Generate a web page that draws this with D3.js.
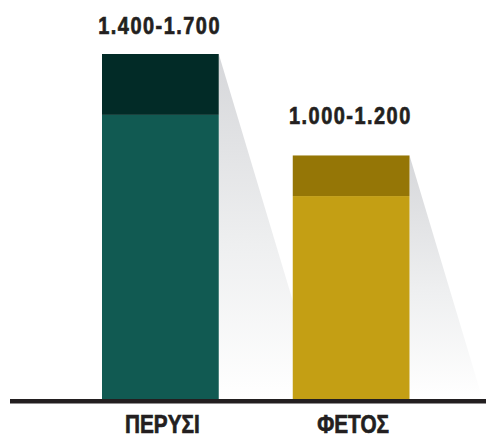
<!DOCTYPE html>
<html lang="el">
<head>
    <meta charset="UTF-8">
    <title>ΠΕΡΥΣΙ - ΦΕΤΟΣ</title>
    <script src="https://d3js.org/d3.v7.min.js"></script>
    <style>
        html, body { margin: 0; padding: 0; background: #fff; }
        svg { display: block; }
        .label {
            font-family: "Liberation Sans", Arial, sans-serif;
            font-weight: bold;
            fill: #231f20;
            stroke: #231f20;
            stroke-width: 0.7px;
        }
    </style>
</head>
<body>
    <svg id="canvas" width="486" height="439"></svg>
    <script>
        // data
        let categories = ["ΠΕΡΥΣΙ", "ΦΕΤΟΣ"];
        let lowValues = [1400, 1000];
        let highValues = [1700, 1200];
        let rangeLabels = ["1.400-1.700", "1.000-1.200"];

        let baseColors = ["#115a52", "#c49f14"];
        let topColors = ["#022b27", "#957606"];

        let svg = d3.select("#canvas");
        let baseline = 399;
        let squeeze = 0.83; // condensed look

        let x = d3.scaleBand()
            .domain(categories)
            .range([102, 409.5])
            .paddingInner(0.388)
            .paddingOuter(0);

        let y = d3.scaleLinear()
            .domain([0, 1700])
            .range([baseline, 54]);

        let defs = svg.append("defs");

        // shadows first so the next bar covers them
        categories.forEach(function (c, i) {
            let right = x(c) + x.bandwidth();
            let top = y(highValues[i]);
            let h = baseline - top;
            let grad = defs.append("linearGradient")
                .attr("id", "shade" + i)
                .attr("gradientUnits", "userSpaceOnUse")
                .attr("x1", 0).attr("x2", 0)
                .attr("y1", top).attr("y2", baseline);
            grad.append("stop").attr("offset", 0).attr("stop-color", "#d6d7da");
            grad.append("stop").attr("offset", 0.55).attr("stop-color", "#eeeff0");
            grad.append("stop").attr("offset", 1).attr("stop-color", "#ffffff");

            svg.append("path")
                .attr("d", `M${right},${top} L${right + h * 0.3},${baseline} L${right},${baseline} Z`)
                .attr("fill", "url(#shade" + i + ")");
        });

        let bars = svg.append("g");

        // lower part of the range
        bars.selectAll("rect.base")
            .data(categories)
            .enter()
            .append("rect")
            .attr("class", "base")
            .attr("x", function (d) { return x(d); })
            .attr("width", x.bandwidth())
            .attr("y", function (d, i) { return y(lowValues[i]); })
            .attr("height", function (d, i) { return baseline - y(lowValues[i]); })
            .attr("fill", function (d, i) { return baseColors[i]; });

        // upper part of the range
        bars.selectAll("rect.top")
            .data(categories)
            .enter()
            .append("rect")
            .attr("class", "top")
            .attr("x", function (d) { return x(d); })
            .attr("width", x.bandwidth())
            .attr("y", function (d, i) { return y(highValues[i]); })
            .attr("height", function (d, i) { return y(lowValues[i]) - y(highValues[i]); })
            .attr("fill", function (d, i) { return topColors[i]; });

        // range labels above the bars
        let labelGap = [20, 31];
        svg.selectAll("g.range")
            .data(rangeLabels)
            .enter()
            .append("g")
            .attr("class", "range")
            .attr("transform", function (d, i) {
                let cx = x(categories[i]) + x.bandwidth() / 2 - 1.5;
                return `translate(${cx},${y(highValues[i]) - labelGap[i]}) scale(${squeeze},1)`;
            })
            .append("text")
            .attr("class", "label")
            .attr("text-anchor", "middle")
            .attr("font-size", 24)
            .attr("letter-spacing", 1.8)
            .attr("dx", 0.9)
            .text(function (d) { return d; });

        // base line
        svg.append("rect")
            .attr("x", 10)
            .attr("y", baseline)
            .attr("width", 476)
            .attr("height", 4.5)
            .attr("fill", "#231f20");

        // category axis
        let axis = svg.append("g")
            .attr("transform", `translate(0,${baseline})`)
            .call(d3.axisBottom(x).tickSize(0).tickPadding(0));
        axis.select(".domain").remove();
        axis.selectAll(".tick text")
            .attr("class", "label")
            .attr("dy", 0)
            .attr("y", 0)
            .attr("font-size", 25)
            .attr("font-family", null)
            .attr("transform", `translate(2,34) scale(${squeeze},1)`);
    </script>
</body>
</html>
